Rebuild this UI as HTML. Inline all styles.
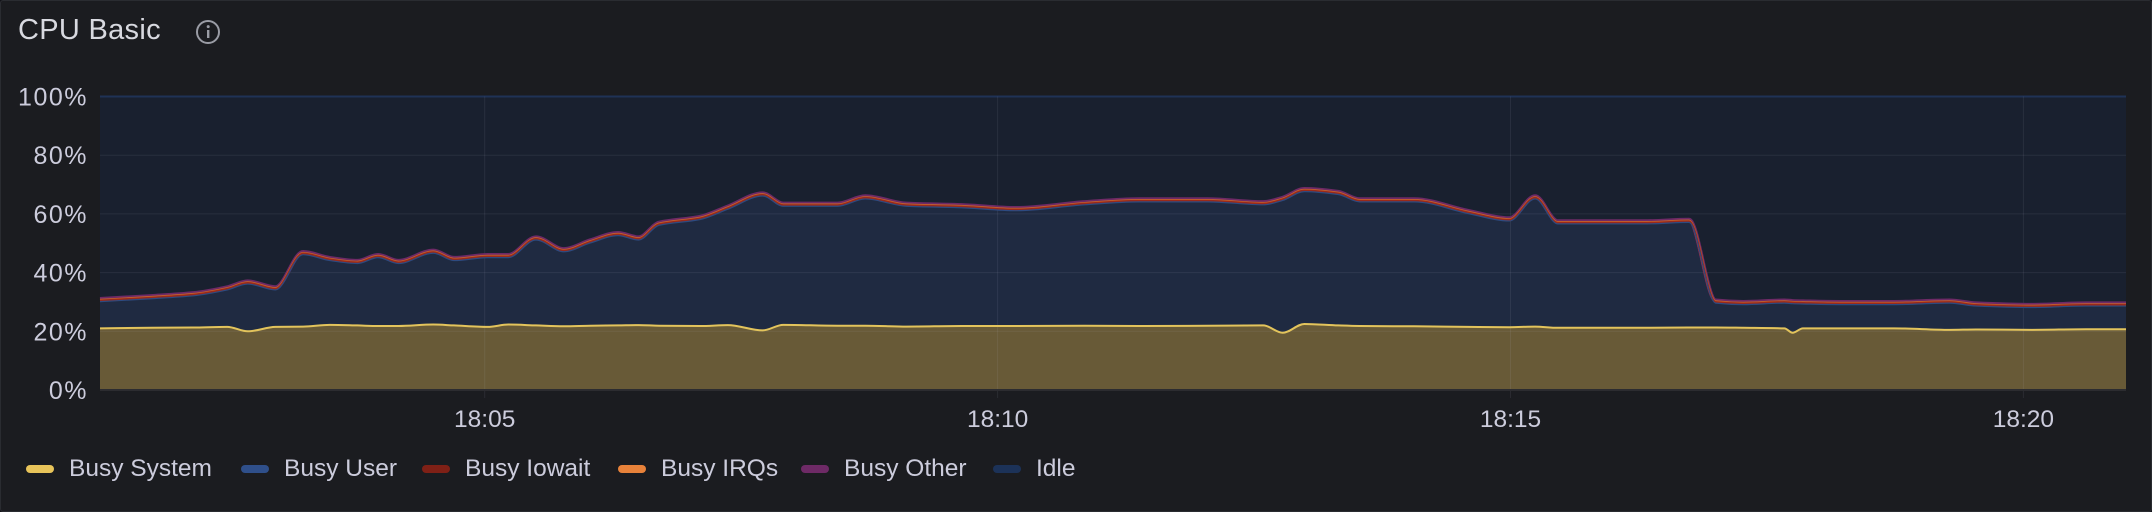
<!DOCTYPE html>
<html><head><meta charset="utf-8">
<style>
html,body{margin:0;padding:0;background:#111217;}
#panel{position:relative;width:2150px;height:510px;background:#1b1c20;border:1px solid #2a2c31;border-radius:3px;overflow:hidden;font-family:"Liberation Sans",sans-serif;color:#ccccdc;}
#title{position:absolute;left:17px;top:13px;font-size:29px;color:#d8d9e0;letter-spacing:0.3px;}
#info{position:absolute;left:194px;top:18px;}
svg{position:absolute;left:0;top:0;}
.legend{position:absolute;top:454px;height:28px;display:flex;align-items:center;font-size:24.5px;color:#ccccdc;}
.sw{display:inline-block;width:28px;height:8px;border-radius:4px;margin-right:15px;}
</style></head><body>
<div id="panel">
<div id="title">CPU Basic</div>
<svg id="info" width="26" height="26"><circle cx="13" cy="13" r="11" fill="none" stroke="#9a9ca5" stroke-width="2"/><rect x="12" y="11" width="2.4" height="8" fill="#9a9ca5"/><circle cx="13.2" cy="7.6" r="1.5" fill="#9a9ca5"/></svg>
<svg id="chart" width="2152" height="512"></svg>
<div class="legend" style="left:25px"><span class="sw" style="background:#e8c45a"></span>Busy System</div>
<div class="legend" style="left:240px"><span class="sw" style="background:#2f4f8a"></span>Busy User</div>
<div class="legend" style="left:421px"><span class="sw" style="background:#7f2016"></span>Busy Iowait</div>
<div class="legend" style="left:617px"><span class="sw" style="background:#e8823a"></span>Busy IRQs</div>
<div class="legend" style="left:800px"><span class="sw" style="background:#6e2a66"></span>Busy Other</div>
<div class="legend" style="left:992px"><span class="sw" style="background:#1c3258"></span>Idle</div>
</div>
<script>
const times=[1.25,1.75,2.16,2.49,2.69,2.96,3.23,3.49,3.76,3.96,4.16,4.50,4.70,5.03,5.23,5.50,5.77,6.03,6.30,6.50,6.70,7.10,7.37,7.71,7.91,8.44,8.71,9.11,9.65,10.18,10.85,11.38,12.05,12.59,12.78,12.99,13.32,13.53,14.06,14.59,14.99,15.24,15.46,16.33,16.74,17.00,17.27,17.67,17.75,17.85,18.21,18.74,19.28,19.54,20.08,20.61,21.0];
const totalBusy=[31,32,33,35,37,35,47,45,44,46,44,47.5,45,46,46,52,48,51,53.5,52,57,59,62.5,67,63.5,63.5,66,63.5,63,62,64,65,65,64,65.5,68.5,67.5,65,65,61,58.5,66,57.5,57.5,58,30.5,30,30.5,30.3,30.2,30,30,30.5,29.5,29,29.5,29.5];
const busySystem=[21,21.2,21.3,21.5,20,21.5,21.6,22.2,22,21.8,21.8,22.3,22,21.5,22.3,22,21.7,21.9,22,22.1,21.9,21.8,22.1,20.3,22.2,21.9,21.9,21.6,21.8,21.8,21.9,21.8,21.9,22,19.5,22.5,22,21.8,21.7,21.5,21.4,21.6,21.2,21.2,21.3,21.3,21.2,21,19.5,21,21,21,20.5,20.6,20.5,20.7,20.7];
const busyIowait=0.35, busyIrqs=0.2, busyOther=0.35;
const yTicks=[0,20,40,60,80,100];
const xTicks=[5,10,15,20];
const xTickLabels=["18:05","18:10","18:15","18:20"];

const L=99,R=2125,T=95.5,B=389;
const t0=1.25,t1=21.0;
const xs=t=>L+(t-t0)/(t1-t0)*(R-L);
const ys=v=>B-v/100*(B-T);
const svg=document.getElementById('chart');
const NS='http://www.w3.org/2000/svg';
function mk(tag,attrs){const e=document.createElementNS(NS,tag);for(const k in attrs)e.setAttribute(k,attrs[k]);svg.appendChild(e);return e;}
function curve(vals){
 const n=times.length;const X=times.map(t=>Math.max(L,Math.min(R,xs(t)))),Y=vals.map(ys);
 const d=[],m=new Array(n);
 for(let i=0;i<n-1;i++)d.push((Y[i+1]-Y[i])/(X[i+1]-X[i]||1));
 m[0]=d[0];m[n-1]=d[n-2];
 for(let i=1;i<n-1;i++){if(d[i-1]*d[i]<=0)m[i]=0;else m[i]=2/(1/d[i-1]+1/d[i]);}
 let s='M'+X[0]+','+Y[0];
 for(let i=0;i<n-1;i++){const h=(X[i+1]-X[i])/3;s+=` C${X[i]+h},${Y[i]+m[i]*h} ${X[i+1]-h},${Y[i+1]-m[i+1]*h} ${X[i+1]},${Y[i+1]}`;}
 return s;}
let bg=mk('rect',{x:L,y:T,width:R-L,height:B-T,fill:'#19202f'});


const userTop=totalBusy.map(v=>v-busyIowait-busyIrqs-busyOther);
const topD=curve(totalBusy), sysD=curve(busySystem);
let ua=mk('path',{d:topD+` L${R},${B} L${L},${B} Z`,fill:'#1f2a41'});


let sa=mk('path',{d:sysD+` L${R},${B} L${L},${B} Z`,fill:'#685a37'});


yTicks.forEach(v=>{let g=mk('line',{x1:L,x2:R,y1:ys(v),y2:ys(v),stroke:v==100?'#1f3256':'rgba(204,204,220,0.09)','stroke-width':v==100?2:1});
 
 
 let tx=mk('text',{x:87,y:ys(v)+9,'text-anchor':'end','font-size':25,'letter-spacing':1.5,fill:'#ccccdc','font-family':'Liberation Sans, sans-serif'});tx.textContent=v+'%';
 
 });
xTicks.forEach((m,i)=>{const x=xs(m);let g=mk('line',{x1:x,x2:x,y1:T,y2:B+8,stroke:'rgba(204,204,220,0.09)'});
 
 
 let tx=mk('text',{x:x,y:426,'text-anchor':'middle','font-size':24.5,fill:'#ccccdc','font-family':'Liberation Sans, sans-serif'});tx.textContent=xTickLabels[i];
 
 });
let lo=mk('path',{d:topD,fill:'none',stroke:'#6e2a66','stroke-width':4,'stroke-linejoin':'round'});


let li=mk('path',{d:curve(totalBusy.map(v=>v-busyOther)),fill:'none',stroke:'#c4612e','stroke-width':2.5});


let lw=mk('path',{d:curve(totalBusy.map(v=>v-busyOther-busyIrqs)),fill:'none',stroke:'#9a2a1a','stroke-width':2});


let lu=mk('path',{d:curve(userTop),fill:'none',stroke:'#2d4a80','stroke-width':1.2});


let ls=mk('path',{d:sysD,fill:'none',stroke:'#e3c45c','stroke-width':2});


let ax=mk('line',{x1:L,x2:R,y1:B,y2:B,stroke:'#2c2c30','stroke-width':2});


</script>
</body></html>
